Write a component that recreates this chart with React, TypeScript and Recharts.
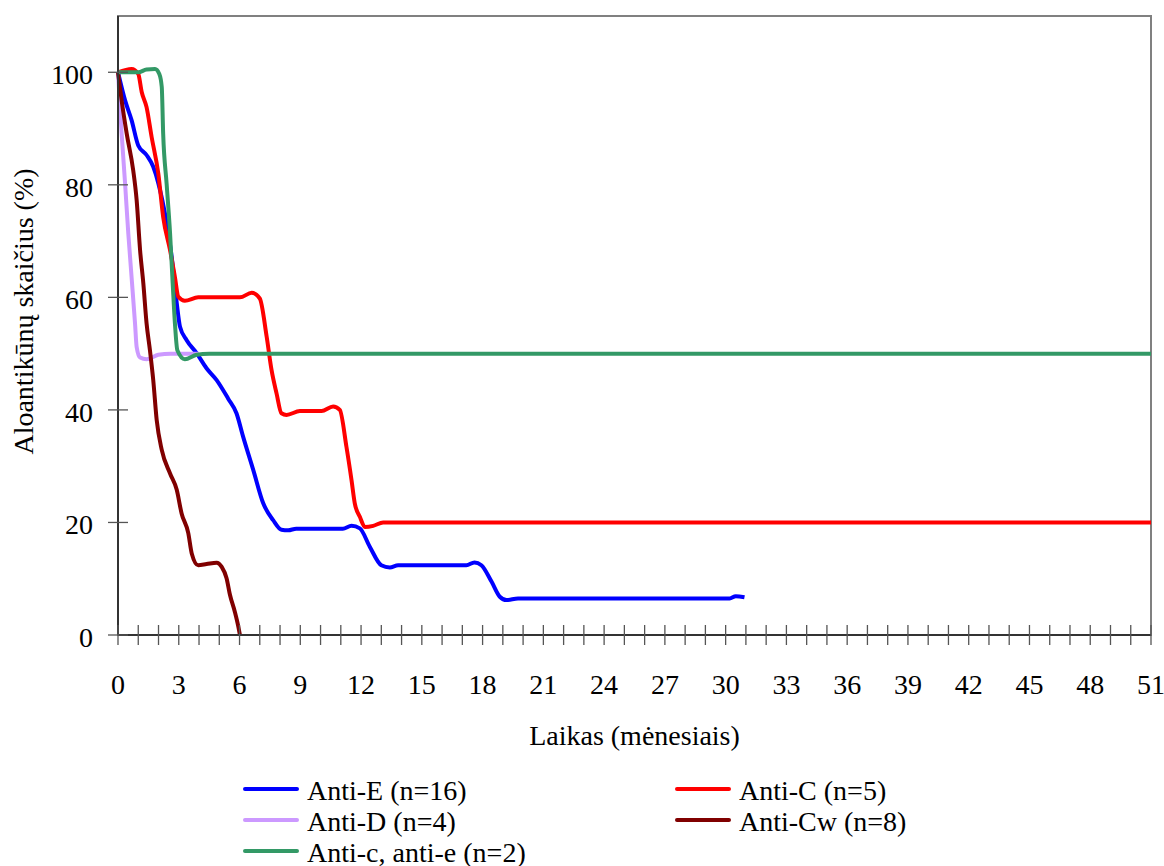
import React from 'react';
import { LineChart, Line, XAxis, YAxis, ReferenceArea, Legend, Label } from 'recharts';

// ---- axis ticks ----
const monthTicks = [0, 1, 2, 3, 4, 5, 6, 7, 8, 9, 10, 11, 12, 13, 14, 15, 16, 17, 18, 19, 20, 21, 22, 23, 24, 25, 26, 27, 28, 29, 30, 31, 32, 33, 34, 35, 36, 37, 38, 39, 40, 41, 42, 43, 44, 45, 46, 47, 48, 49, 50, 51];
const labeledMonths = [0, 3, 6, 9, 12, 15, 18, 21, 24, 27, 30, 33, 36, 39, 42, 45, 48, 51];
const percentTicks = [0, 20, 40, 60, 80, 100];

// ---- series data (months, % remaining) ----
const antiEMonths = [0, 0.35, 0.67, 1.0, 1.41, 1.74, 1.99, 2.4, 2.65, 2.9, 3.06, 3.39, 3.88, 4.37, 4.87, 5.44, 5.85, 6.18, 6.68, 7.17, 7.66, 8.07, 8.4, 8.8, 11.1, 11.53, 11.94, 12.43, 13.0, 13.42, 13.83, 17.2, 17.6, 17.94, 18.44, 18.85, 19.18, 19.75, 30.2, 30.5, 30.93];
const antiEValues = [100, 95, 91.5, 87, 85.3, 83.2, 80.3, 73.2, 67.2, 59, 54.8, 52.4, 50.1, 47.4, 45.3, 42, 39.4, 35.2, 29.3, 23.4, 20.4, 18.7, 18.6, 18.9, 18.9, 19.4, 18.95, 15.7, 12.4, 12.0, 12.4, 12.4, 12.9, 12.4, 9.5, 6.8, 6.2, 6.5, 6.5, 6.9, 6.7];

const antiCMonths = [0, 0.67, 1.0, 1.17, 1.41, 1.66, 1.99, 2.23, 2.57, 2.81, 2.98, 3.3, 3.96, 6.02, 6.6, 7.0, 7.34, 7.58, 7.83, 8.07, 8.32, 8.98, 10.05, 10.62, 10.95, 11.28, 11.53, 11.69, 11.94, 12.19, 12.6, 13.09, 51];
const antiCValues = [100, 100.6, 99.7, 96.5, 93.8, 88.5, 82, 74.3, 68.4, 63.6, 60.1, 59.4, 60, 60, 60.8, 59.8, 53, 47.1, 42.9, 39.4, 39.1, 39.8, 39.8, 40.6, 40, 33.4, 27.5, 23.4, 21, 19.2, 19.4, 20, 20];

const antiDMonths = [0, 0.18, 0.35, 0.51, 0.67, 0.84, 0.92, 1.09, 1.41, 1.99, 2.6, 4];
const antiDValues = [100, 89.1, 80.2, 71.3, 63.6, 55.4, 51.2, 49.3, 49, 49.8, 50, 50];

const antiCwMonths = [0, 0.18, 0.43, 0.75, 0.92, 1.09, 1.25, 1.41, 1.58, 1.74, 1.91, 2.16, 2.57, 2.9, 3.14, 3.47, 3.64, 3.96, 4.37, 4.87, 5.12, 5.36, 5.53, 5.77, 5.94, 6.02];
const antiCwValues = [100, 95, 89.1, 82.6, 77.3, 68.4, 62.5, 55.4, 50.5, 45.3, 38.2, 32.9, 28.7, 25.8, 21.6, 18.1, 14.5, 12.4, 12.6, 12.85, 12.1, 10.1, 7.1, 4.1, 1.5, 0];

const antiCeMonths = [0, 1.0, 1.41, 1.83, 2.04, 2.16, 2.23, 2.4, 2.57, 2.7, 2.81, 2.93, 3.3, 3.88, 4.5, 51];
const antiCeValues = [100, 100, 100.5, 100.6, 99.7, 97.4, 89.1, 80.2, 71.4, 62.5, 55.4, 50.6, 49, 49.8, 50, 50];

const toPoints = (months: number[], values: number[]) =>
  months.map((m, i) => ({ month: m, value: values[i] }));

const series = [
  { name: 'Anti-E (n=16)', color: '#0000FF', data: toPoints(antiEMonths, antiEValues) },
  { name: 'Anti-C (n=5)', color: '#FF0000', data: toPoints(antiCMonths, antiCValues) },
  { name: 'Anti-D (n=4)', color: '#CC99FF', data: toPoints(antiDMonths, antiDValues) },
  { name: 'Anti-Cw (n=8)', color: '#800000', data: toPoints(antiCwMonths, antiCwValues) },
  { name: 'Anti-c, anti-e (n=2)', color: '#339966', data: toPoints(antiCeMonths, antiCeValues) },
];

const FONT = '"Liberation Serif", "Times New Roman", serif';
const FONT_SIZE = 28;
const TICK_SIZE = 10;
const X_TICK_MARGIN = 29;
const Y_TICK_MARGIN = 15;

function XTick(props: any) {
  const { x, y, payload } = props;
  const axisY = y - X_TICK_MARGIN - TICK_SIZE;
  const v = payload.value;
  return (
    <g>
      <line x1={x} x2={x} y1={axisY - TICK_SIZE} y2={axisY + TICK_SIZE} stroke="#555" strokeWidth={1.3} />
      {labeledMonths.includes(v) && (
        <text x={x} y={y} dy="0.71em" textAnchor="middle" fontFamily={FONT} fontSize={FONT_SIZE} fill="#000">
          {v}
        </text>
      )}
    </g>
  );
}

function YTick(props: any) {
  const { x, y, payload } = props;
  const axisX = x + Y_TICK_MARGIN + TICK_SIZE;
  return (
    <g>
      <line x1={axisX - TICK_SIZE} x2={axisX + TICK_SIZE} y1={y} y2={y} stroke="#555" strokeWidth={1.3} />
      <text x={x} y={y} dy="0.42em" textAnchor="end" fontFamily={FONT} fontSize={FONT_SIZE} fill="#000">
        {payload.value}
      </text>
    </g>
  );
}

const legendColumns = [243, 675];

function LegendContent() {
  return (
    <div style={{ position: 'relative', width: 1164, height: 95 }}>
      {series.map((s, i) => {
        const col = i % 2;
        const row = Math.floor(i / 2);
        return (
          <div
            key={s.name}
            style={{
              position: 'absolute',
              left: legendColumns[col],
              top: row * 31,
              height: 31,
              display: 'flex',
              alignItems: 'flex-start',
              whiteSpace: 'nowrap',
            }}
          >
            <div style={{ width: 56, height: 4, marginTop: 12, background: s.color, borderRadius: 2 }} />
            <span style={{ marginLeft: 8, fontFamily: FONT, fontSize: FONT_SIZE, lineHeight: '31px', color: '#000' }}>
              {s.name}
            </span>
          </div>
        );
      })}
    </div>
  );
}

export default function App() {
  return (
    <div style={{ position: 'absolute', left: 0, top: 0, width: 1164, height: 866, background: '#fff' }}>
      <LineChart width={1164} height={866} margin={{ top: 16, right: 13, left: 0, bottom: 131 }}>
        <ReferenceArea x1={0} x2={51} y1={0} y2={110} fill="none" stroke="#808080" strokeWidth={2} ifOverflow="visible" />
        <XAxis
          type="number"
          dataKey="month"
          domain={[0, 51]}
          ticks={monthTicks}
          interval={0}
          tickSize={TICK_SIZE}
          tickMargin={X_TICK_MARGIN}
          tickLine={false}
          axisLine={{ stroke: '#333', strokeWidth: 2 }}
          tick={<XTick />}
          height={100}
          allowDuplicatedCategory={false}
        >
          <Label
            content={(p: any) => {
              const vb = p.viewBox;
              return (
                <text x={vb.x + vb.width / 2} y={vb.y + 110} textAnchor="middle" fontFamily={FONT} fontSize={FONT_SIZE} fill="#000">
                  Laikas (mėnesiais)
                </text>
              );
            }}
          />
        </XAxis>
        <YAxis
          type="number"
          domain={[0, 110]}
          ticks={percentTicks}
          tickSize={TICK_SIZE}
          tickMargin={Y_TICK_MARGIN}
          tickLine={false}
          axisLine={{ stroke: '#333', strokeWidth: 2 }}
          tick={<YTick />}
          width={118}
        >
          <Label
            content={(p: any) => {
              const vb = p.viewBox;
              const cx = vb.x + 33;
              const cy = vb.y + vb.height / 2 - 14;
              return (
                <text x={cx} y={cy} transform={`rotate(-90, ${cx}, ${cy})`} textAnchor="middle" fontFamily={FONT} fontSize={FONT_SIZE} fill="#000">
                  Aloantikūnų skaičius (%)
                </text>
              );
            }}
          />
        </YAxis>
        <Legend
          layout="horizontal"
          verticalAlign="middle"
          align="center"
          wrapperStyle={{ position: 'absolute', top: 775, left: 0, width: 1164, height: 95 }}
          content={<LegendContent />}
        />
        {series.map((s) => (
          <Line
            key={s.name}
            data={s.data}
            dataKey="value"
            name={s.name}
            type="monotone"
            stroke={s.color}
            strokeWidth={4}
            dot={false}
            activeDot={false}
            isAnimationActive={false}
          />
        ))}
      </LineChart>
    </div>
  );
}
